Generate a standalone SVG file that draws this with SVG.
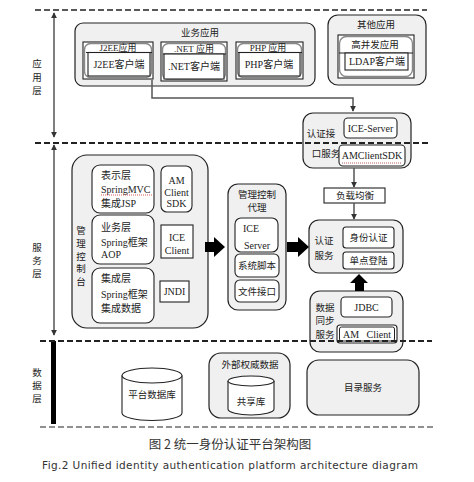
<svg xmlns="http://www.w3.org/2000/svg" width="474" height="482" viewBox="0 0 474 482">
<style>
.t{font-family:"Liberation Serif","Noto Sans CJK SC",serif;font-size:10px;fill:#222;dominant-baseline:central}
.c{font-family:"Liberation Sans","Noto Sans CJK SC",sans-serif;font-size:9.5px;fill:#222;dominant-baseline:central}
.h{font-size:9px}
.m{text-anchor:middle}
.g{fill:#f0f0f0;stroke:#222;stroke-width:1.2}
.w{fill:#fff;stroke:#222;stroke-width:1.1}
.br{fill:none;stroke:#888;stroke-width:1.4}
.ln{fill:none;stroke:#222;stroke-width:1}
.con{fill:none;stroke:#555;stroke-width:1.5}
.blk{fill:#000}
.dash{fill:none;stroke:#222;stroke-dasharray:6 3}
</style>
<defs>
<marker id="ah" viewBox="0 0 8 8" refX="7" refY="4" markerWidth="6" markerHeight="6" orient="auto-start-reverse" markerUnits="userSpaceOnUse">
<path d="M0,0 L8,4 L0,8 z" fill="#333"/>
</marker>
</defs>
<rect width="474" height="482" fill="#fff"/>

<g id="layer-labels">
<text class="c m" x="37" y="63">应</text><text class="c m" x="37" y="77">用</text><text class="c m" x="37" y="90">层</text>
<text class="c m" x="37" y="247">服</text><text class="c m" x="37" y="260">务</text><text class="c m" x="37" y="273">层</text>
<text class="c m" x="37" y="372">数</text><text class="c m" x="37" y="385">据</text><text class="c m" x="37" y="398">层</text>
</g>

<g id="biz-apps">
<rect class="g" x="75" y="23" width="240" height="63" rx="8"/>
<text class="c m" x="200" y="32">业务应用</text>
</g>
<g id="j2ee">
<rect class="w" x="83" y="42" width="70" height="37"/>
<rect class="br" x="84.5" y="43.5" width="67" height="34" rx="6"/>
<line class="ln" x1="86" y1="52.5" x2="152" y2="52.5"/>
<rect class="w" x="88" y="52.5" width="62" height="23.5"/>
<text class="t h m" x="118" y="47.5">J2EE应用</text>
<text class="t m" x="119" y="64.5">J2EE客户端</text>
</g>
<g id="dotnet">
<rect class="w" x="161" y="42" width="66" height="39"/>
<rect class="br" x="162.5" y="43.5" width="63" height="36" rx="6"/>
<line class="ln" x1="163" y1="54" x2="226" y2="54"/>
<rect class="w" x="164" y="54" width="60" height="25"/>
<text class="t h m" x="194" y="48.5">.NET 应用</text>
<text class="t m" x="194" y="66.5">.NET客户端</text>
</g>
<g id="php">
<rect class="w" x="236" y="42" width="67" height="37"/>
<rect class="br" x="237.5" y="43.5" width="64" height="34" rx="6"/>
<line class="ln" x1="238" y1="52.5" x2="302" y2="52.5"/>
<rect class="w" x="239" y="52.5" width="61" height="23.5"/>
<text class="t h m" x="268" y="47.5">PHP 应用</text>
<text class="t m" x="269" y="64.5">PHP客户端</text>
</g>
<g id="other-apps">
<rect class="g" x="328" y="15" width="98" height="70" rx="10"/>
<text class="c m" x="376" y="24">其他应用</text>
<rect class="w" x="338" y="35" width="76" height="43"/>
<rect class="br" x="339.5" y="36.5" width="73" height="40" rx="7"/>
<line class="ln" x1="339" y1="53" x2="413" y2="53"/>
<rect class="w" x="345" y="53" width="63" height="17"/>
<text class="c m" x="375" y="44.5">高并发应用</text>
<text class="t m" x="377" y="61.5">LDAP客户端</text>
</g>

<g id="auth-interface">
<rect class="g" x="303" y="113" width="108" height="55" rx="10"/>
<text class="c m" x="321" y="133">认证接</text>
<text class="c m" x="326" y="153">口服务</text>
<rect class="w" x="344" y="118" width="53" height="20" rx="4"/>
<text class="t m" x="370.5" y="128.5">ICE-Server</text>
<rect class="w" x="339" y="145" width="66" height="21" rx="4"/>
<text class="t m" x="372" y="155.5">AMClientSDK</text>
<line x1="342" y1="163" x2="402" y2="163" stroke="#a33" stroke-width="0.8" stroke-dasharray="1 1"/>
</g>
<g id="load-balance">
<rect class="w" x="324" y="188" width="61" height="15"/>
<text class="c m" x="355" y="195.5">负载均衡</text>
</g>
<g id="auth-service">
<rect class="g" x="309" y="220" width="94" height="53" rx="10"/>
<text class="c m" x="324" y="240">认证</text>
<text class="c m" x="324" y="255">服务</text>
<rect class="w" x="343" y="227" width="51" height="21" rx="3"/>
<text class="c m" x="368.5" y="237.5">身份认证</text>
<rect class="w" x="343" y="252" width="51" height="17" rx="3"/>
<text class="c m" x="368.5" y="260.5">单点登陆</text>
</g>
<g id="data-sync">
<rect class="g" x="310" y="291" width="93" height="61" rx="10"/>
<text class="c m" x="325" y="307">数据</text>
<text class="c m" x="325" y="320">同步</text>
<text class="c m" x="325" y="334">服务</text>
<rect class="w" x="341" y="297" width="51" height="20" rx="4"/>
<text class="t m" x="366.5" y="307">JDBC</text>
<rect class="w" x="337" y="325" width="60" height="18" rx="3"/>
<rect class="ln" x="339.5" y="327" width="55" height="14" rx="2"/>
<text class="t m" x="367" y="334" xml:space="preserve">AM   Client</text>
</g>

<g id="mgmt-console">
<rect class="g" x="72" y="155" width="136" height="173" rx="15"/>
<text class="c m" x="81" y="230">管</text><text class="c m" x="81" y="243">理</text><text class="c m" x="81" y="256">控</text><text class="c m" x="81" y="268">制</text><text class="c m" x="81" y="281">台</text>
<rect class="w" x="92" y="165" width="62" height="48" rx="8"/>
<text class="t" x="101" y="175">表示层</text>
<text class="t" x="101" y="189">SpringMVC</text>
<line x1="101" y1="195" x2="152" y2="195" stroke="#c33" stroke-width="0.8" stroke-dasharray="1 1"/>
<text class="t" x="101" y="203">集成JSP</text>
<rect class="w" x="92" y="215" width="62" height="49" rx="8"/>
<text class="t" x="101" y="227">业务层</text>
<text class="t" x="101" y="242">Spring框架</text>
<text class="t" x="101" y="254">AOP</text>
<rect class="w" x="92" y="268" width="62" height="55" rx="8"/>
<text class="t" x="101" y="278">集成层</text>
<text class="t" x="101" y="294">Spring框架</text>
<text class="t" x="101" y="308">集成数据</text>
<rect class="w" x="161" y="166" width="31" height="46" rx="6"/>
<text class="t m" x="176.5" y="180">AM</text>
<text class="t m" x="176.5" y="192">Client</text>
<text class="t m" x="176.5" y="203">SDK</text>
<rect class="w" x="161" y="225" width="32" height="33"/>
<text class="t m" x="177" y="237">ICE</text>
<text class="t m" x="177" y="250">Client</text>
<rect class="w" x="160" y="281" width="29" height="21"/>
<text class="t m" x="174.5" y="291.5">JNDI</text>
</g>

<g id="mgmt-agent">
<rect class="g" x="228" y="184" width="58" height="126" rx="10"/>
<text class="c m" x="257" y="194.5">管理控制</text>
<text class="c m" x="257" y="207">代理</text>
<rect class="w" x="235" y="218" width="43" height="34" rx="6"/>
<text class="t" x="243" y="228">ICE</text>
<text class="t" x="244" y="245">Server</text>
<rect class="w" x="235" y="254" width="44" height="23" rx="5"/>
<text class="c m" x="257" y="265.5">系统脚本</text>
<rect class="w" x="235" y="280" width="44" height="22" rx="5"/>
<text class="c m" x="257" y="291">文件接口</text>
</g>

<g id="platform-db">
<path d="M122,375.5 V413 A30,7.5 0 0 0 182,413 V375.5" fill="#fff" stroke="#222" stroke-width="1.1"/>
<ellipse cx="152" cy="375.5" rx="30" ry="7.5" fill="#fff" stroke="#222" stroke-width="1.1"/>
<text class="c m" x="152" y="394">平台数据库</text>
</g>
<g id="external-data">
<rect class="g" x="209" y="353" width="81" height="65" rx="12"/>
<text class="c m" x="250" y="364">外部权威数据</text>
<path d="M228,381 V409 A23,6 0 0 0 274,409 V381" fill="#fff" stroke="#222" stroke-width="1.1"/>
<ellipse cx="251" cy="381" rx="23" ry="5" fill="#fff" stroke="#222" stroke-width="1.1"/>
<text class="c m" x="251" y="401">共享库</text>
</g>
<g id="directory">
<rect class="g" x="307" y="360" width="112" height="55" rx="12"/>
<text class="c m" x="363" y="387">目录服务</text>
</g>

<g id="connectors">
<path class="con" d="M152,80 V98 H353 V111" marker-end="url(#ah)"/>
<path class="con" d="M354,168 V187" marker-end="url(#ah)"/>
<path class="con" d="M354,203 V219" marker-end="url(#ah)"/>
<polygon class="blk" points="205,242 214,242 214,237 225,247 214,257 214,252 205,252"/>
<polygon class="blk" points="287,242 298,242 298,237 309,247 298,257 298,252 287,252"/>
<polygon class="blk" points="359,274 368,283 364,283 364,291 355,291 355,283 350,283"/>
<line class="con" x1="54" y1="13" x2="54" y2="137" stroke-width="1.2" marker-start="url(#ah)" marker-end="url(#ah)"/>
<line class="con" x1="54" y1="145" x2="54" y2="335" stroke-width="1.2" marker-start="url(#ah)" marker-end="url(#ah)"/>
<rect x="51" y="341" width="5" height="83" fill="#000"/>
</g>

<g id="layer-dividers">
<line class="dash" x1="35" y1="10" x2="427" y2="10" stroke-width="1.3"/>
<line class="dash" x1="35" y1="143" x2="428" y2="143" stroke-width="2" stroke-dasharray="7 3"/>
<line class="dash" x1="40" y1="341" x2="432" y2="341" stroke-width="2" stroke-dasharray="7 3"/>
<line class="dash" x1="40" y1="427" x2="433" y2="427" stroke-width="1.2" stroke-dasharray="5 3"/>
</g>

<g id="captions">
<text x="230" y="443" text-anchor="middle" dominant-baseline="central" style="font-family:'Noto Sans CJK SC',sans-serif;font-size:12.5px;fill:#333">图 2 统一身份认证平台架构图</text>
<text x="42" y="465" dominant-baseline="central" textLength="376" lengthAdjust="spacing" style="font-family:'DejaVu Sans',sans-serif;font-size:10.5px;fill:#333">Fig.2  Unified identity authentication platform architecture diagram</text>
</g>
</svg>
